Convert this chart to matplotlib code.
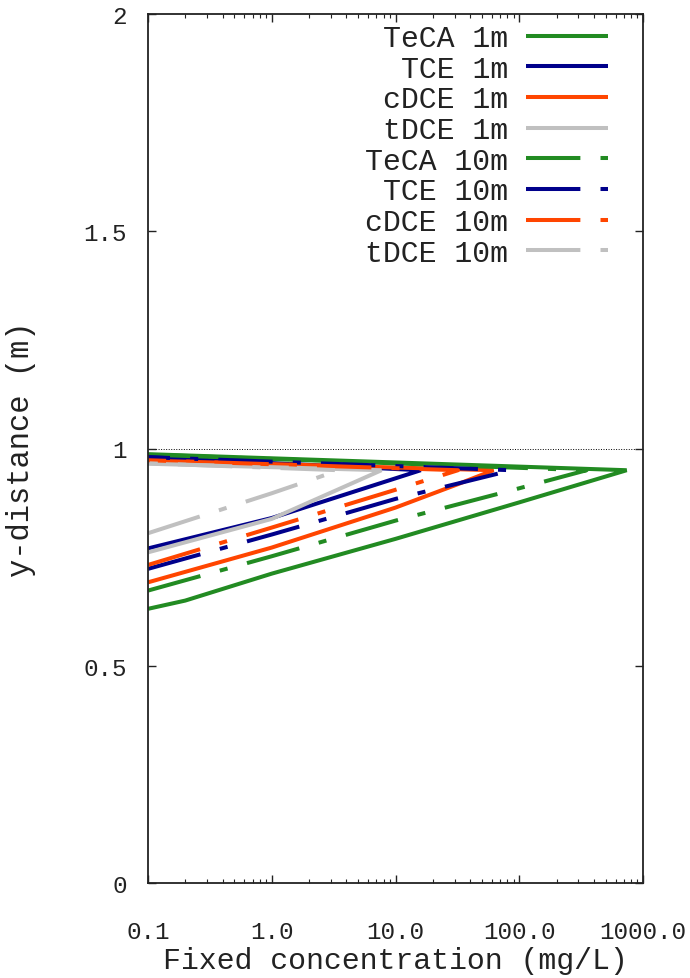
import matplotlib
matplotlib.use("Agg")
import matplotlib.pyplot as plt
from matplotlib.ticker import FixedLocator, FixedFormatter, LogLocator, NullFormatter

plt.rcParams['font.family'] = ['Liberation Mono', 'DejaVu Sans Mono']

# ---- data (concentration in mg/L, y-distance in m) ----
teca_1m_x = [0.1, 0.2, 1.0, 10.0, 100.0, 738.0, 0.1]
teca_1m_y = [0.631, 0.650, 0.712, 0.792, 0.876, 0.950, 0.987]

tce_1m_x = [0.1, 1.0, 16.0, 0.1]
tce_1m_y = [0.770, 0.840, 0.950, 0.980]

cdce_1m_x = [0.1, 1.0, 10.0, 32.0, 62.0, 0.1]
cdce_1m_y = [0.692, 0.772, 0.864, 0.918, 0.950, 0.972]

tdce_1m_x = [0.1, 1.0, 7.7, 0.1]
tdce_1m_y = [0.761, 0.838, 0.950, 0.965]

teca_10m_x = [0.1, 1.0, 10.0, 90.0, 350.0, 0.1]
teca_10m_y = [0.673, 0.752, 0.834, 0.905, 0.950, 0.986]

tce_10m_x = [0.1, 1.0, 10.0, 87.0, 0.1]
tce_10m_y = [0.723, 0.802, 0.884, 0.950, 0.980]

cdce_10m_x = [0.1, 1.0, 10.0, 32.0, 0.1]
cdce_10m_y = [0.732, 0.818, 0.905, 0.950, 0.973]

tdce_10m_x = [0.1, 1.0, 3.5, 0.1]
tdce_10m_y = [0.805, 0.897, 0.950, 0.966]

labels = ["TeCA 1m", "TCE 1m", "cDCE 1m", "tDCE 1m",
          "TeCA 10m", "TCE 10m", "cDCE 10m", "tDCE 10m"]

x_ticks = [0.1, 1.0, 10.0, 100.0, 1000.0]
x_tick_labels = ["0.1", "1.0", "10.0", "100.0", "1000.0"]
y_ticks = [0, 0.5, 1, 1.5, 2]
y_tick_labels = ["0", "0.5", "1", "1.5", "2"]
ref_level = 1.0

# ---- styles ----
green = "#228B22"
blue = "#00008B"
orange = "#FF4500"
gray = "#C0C0C0"
lw = 2.9
dashdot = (0, (13.5, 5.0, 2.0, 5.0))

series = [
    (teca_1m_x, teca_1m_y, green, "-"),
    (tce_1m_x, tce_1m_y, blue, "-"),
    (cdce_1m_x, cdce_1m_y, orange, "-"),
    (tdce_1m_x, tdce_1m_y, gray, "-"),
    (teca_10m_x, teca_10m_y, green, dashdot),
    (tce_10m_x, tce_10m_y, blue, dashdot),
    (cdce_10m_x, cdce_10m_y, orange, dashdot),
    (tdce_10m_x, tdce_10m_y, gray, dashdot),
]

fig = plt.figure(figsize=(6.9, 9.79), dpi=100)
ax = fig.add_axes([148 / 690, 1 - 884 / 979, (643 - 148) / 690, (884 - 15) / 979])

for (xs, ys, c, ls), lab in zip(series, labels):
    ax.plot(xs, ys, color=c, lw=lw, linestyle=ls, label=lab,
            solid_capstyle="butt", dash_capstyle="butt", solid_joinstyle="miter")

ax.axhline(ref_level, color="black", lw=0.7, linestyle=(0, (1, 1.6)), zorder=1)

ax.set_xscale("log")
ax.set_xlim(0.1, 1000.0)
ax.set_ylim(0, 2)

ax.xaxis.set_major_locator(FixedLocator(x_ticks))
ax.xaxis.set_major_formatter(FixedFormatter(x_tick_labels))
ax.xaxis.set_minor_locator(LogLocator(base=10, subs=range(2, 10)))
ax.xaxis.set_minor_formatter(NullFormatter())
ax.yaxis.set_major_locator(FixedLocator(y_ticks))
ax.yaxis.set_major_formatter(FixedFormatter(y_tick_labels))

ax.tick_params(axis="both", which="major", direction="in", length=6, width=1.0,
               top=True, right=True, labelsize=17.5, colors="#222222")
ax.tick_params(axis="x", which="major", pad=27)
ax.tick_params(axis="y", which="major", pad=15)
ax.tick_params(axis="x", which="minor", direction="in", length=3, width=0.8,
               top=True, bottom=True, color="#222222")

for s in ax.spines.values():
    s.set_linewidth(1.3)
    s.set_color("#222222")

ax.set_xlabel("Fixed concentration (mg/L)", fontsize=21.5, labelpad=2, color="#222222")
ax.set_ylabel("y-distance (m)", fontsize=22, labelpad=34, color="#222222")

leg = ax.legend(loc="upper right", bbox_to_anchor=((608 - 148) / 495, 1 - 10 / 869),
                frameon=False, markerfirst=False, fontsize=21.5,
                handlelength=2.75, handletextpad=0.6, labelspacing=0.09,
                borderpad=0, borderaxespad=0)
for t in leg.get_texts():
    t.set_color("#222222")

fig.savefig("out.png", dpi=100)
